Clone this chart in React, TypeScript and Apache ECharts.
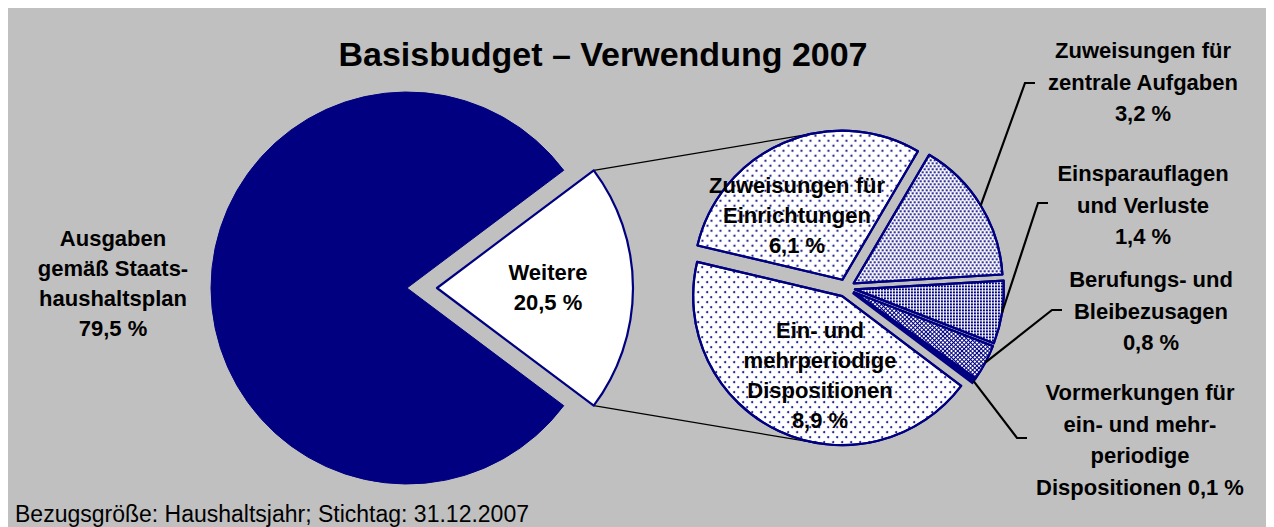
import React, { useEffect, useRef } from "react";
import * as echarts from "echarts";

// ---------- data ----------
const titleText = "Basisbudget – Verwendung 2007";
const footnote = "Bezugsgröße: Haushaltsjahr; Stichtag: 31.12.2007";

const mainCategories = ["Ausgaben\ngemäß Staats-\nhaushaltsplan", "Weitere"];
const mainValues = [79.5, 20.5];

const subCategories = [
  "Zuweisungen für\nEinrichtungen",
  "Zuweisungen für\nzentrale Aufgaben",
  "Einsparauflagen\nund Verluste",
  "Berufungs- und\nBleibezusagen",
  "Vormerkungen für\nein- und mehr-\nperiodige\nDispositionen",
  "Ein- und\nmehrperiodige\nDispositionen",
];
const subValues = [6.1, 3.2, 1.4, 0.8, 0.1, 8.9];
const subValueSeparators = ["\n", "\n", "\n", "\n", " ", "\n"];

// ---------- layout / style ----------
const W = 1266;
const H = 519;
const NAVY = "#000080";
const BG = "#C0C0C0";
const FONT = '"Liberation Sans", Arial, sans-serif';

const MAIN_CX = 399, MAIN_CY = 280, MAIN_R = 196, MAIN_OFFSET = 30;
const SUB_CX = 838, SUB_CY = 280, SUB_R = 149, SUB_OFFSET = 9, SUB_START = 166.7;
const CONNECT_TOP_ANGLE = 101;
const CONNECT_BOTTOM_ANGLE = -100;

const mainLabelPos = [[105, 275], [540, 279]];
const subLabelPos = [[789, 207], [1135, 74], [1135, 197], [1143, 303], [1132, 432], [812, 367]];
const subOutside = [false, true, true, true, true, false];
const subLeaderKnee: (number[] | null)[] = [null, [1017, 75], [1030, 195], [1044, 302], [1009, 430], null];
const subLineHeight = [30, 31.5, 31.5, 31.5, 31.5, 30];

const sparseDots = {
  symbol: "circle", symbolSize: 1, color: NAVY,
  dashArrayX: [[1.6, 6.4], [0, 4, 1.6, 2.4]], dashArrayY: [1.6, 2.4],
};
const subDecals: any[] = [
  sparseDots,
  { symbol: "circle", symbolSize: 1, color: NAVY, dashArrayX: [[2, 2], [0, 2, 2, 0]], dashArrayY: [2, 1] },
  { symbol: "rect", symbolSize: 1, color: NAVY, dashArrayX: [2, 1], dashArrayY: [2, 1] },
  { symbol: "rect", symbolSize: 1, color: "#ffffff", dashArrayX: [2, 1], dashArrayY: [2, 1], rotation: Math.PI / 4 },
  null,
  sparseDots,
];
const subFill = ["#ffffff", "#ffffff", "#ffffff", NAVY, NAVY, "#ffffff"];

const fmt = (v: number) => v.toFixed(1).replace(".", ",") + " %";
const rad = (d: number) => (d * Math.PI) / 180;

export default function App() {
  const ref = useRef<HTMLDivElement>(null);

  useEffect(() => {
    if (!ref.current) return;
    const chart = echarts.init(ref.current, null, { renderer: "svg" });

    const mainTotal = mainValues.reduce((a, b) => a + b, 0);
    const weitereHalf = (mainValues[1] / mainTotal) * 180;
    const mainStart = -weitereHalf;

    const subTotal = subValues.reduce((a, b) => a + b, 0);
    let acc = SUB_START;
    const subAngles = subValues.map((v) => {
      const s = acc;
      const e = acc - (v / subTotal) * 360;
      acc = e;
      return { s, e, mid: (s + e) / 2 };
    });
    const sliceCenter = (i: number) => [
      SUB_CX + SUB_OFFSET * Math.cos(rad(subAngles[i].mid)),
      SUB_CY - SUB_OFFSET * Math.sin(rad(subAngles[i].mid)),
    ];
    const onSlice = (i: number, ang: number) => {
      const c = sliceCenter(i);
      return [c[0] + SUB_R * Math.cos(rad(ang)), c[1] - SUB_R * Math.sin(rad(ang))];
    };

    // connector lines from exploded "Weitere" slice to second pie
    const wcx = MAIN_CX + MAIN_OFFSET;
    const topCorner = [wcx + MAIN_R * Math.cos(rad(weitereHalf)), MAIN_CY - MAIN_R * Math.sin(rad(weitereHalf))];
    const botCorner = [wcx + MAIN_R * Math.cos(rad(weitereHalf)), MAIN_CY + MAIN_R * Math.sin(rad(weitereHalf))];
    const topEnd = onSlice(0, CONNECT_TOP_ANGLE);
    const botEnd = onSlice(subValues.length - 1, CONNECT_BOTTOM_ANGLE);

    const graphics: any[] = [
      { type: "line", z: 1, shape: { x1: topCorner[0], y1: topCorner[1], x2: topEnd[0], y2: topEnd[1] }, style: { stroke: "#000", lineWidth: 1.2 } },
      { type: "line", z: 1, shape: { x1: botCorner[0], y1: botCorner[1], x2: botEnd[0], y2: botEnd[1] }, style: { stroke: "#000", lineWidth: 1.2 } },
    ];

    // labels of the main pie
    mainCategories.forEach((name, i) => {
      graphics.push({
        type: "text", z: 10, x: mainLabelPos[i][0], y: mainLabelPos[i][1],
        style: {
          text: name + "\n" + fmt(mainValues[i]), fill: "#000",
          font: `bold 22px ${FONT}`, align: "center", verticalAlign: "middle", lineHeight: 30,
        },
      });
    });

    // labels and leader lines of the second pie
    subCategories.forEach((name, i) => {
      graphics.push({
        type: "text", z: 10, x: subLabelPos[i][0], y: subLabelPos[i][1],
        style: {
          text: name + subValueSeparators[i] + fmt(subValues[i]), fill: "#000",
          font: `bold 22px ${FONT}`, align: "center", verticalAlign: "middle", lineHeight: subLineHeight[i],
        },
      });
      const knee = subLeaderKnee[i];
      if (subOutside[i] && knee) {
        const anchor = onSlice(i, subAngles[i].mid);
        graphics.push({
          type: "polyline", z: 10,
          shape: { points: [anchor, knee, [knee[0] + 10, knee[1]]] },
          style: { stroke: "#000", lineWidth: 2.2, fill: null },
        });
      }
    });

    graphics.push({
      type: "text", z: 10, x: 7, y: 506,
      style: { text: footnote, fill: "#000", font: `23px ${FONT}`, align: "left", verticalAlign: "middle" },
    });

    chart.setOption({
      animation: false,
      backgroundColor: BG,
      title: {
        text: titleText,
        left: 590,
        top: 24,
        textAlign: "center",
        textStyle: { fontFamily: FONT, fontWeight: "bold", fontSize: 34, color: "#000" },
      },
      graphic: { elements: graphics },
      series: [
        {
          type: "pie",
          center: [MAIN_CX, MAIN_CY],
          radius: MAIN_R,
          startAngle: mainStart,
          clockwise: true,
          silent: true,
          selectedMode: "multiple",
          selectedOffset: MAIN_OFFSET,
          avoidLabelOverlap: false,
          label: { show: false },
          labelLine: { show: false },
          data: mainCategories.map((name, i) => {
            const st = i === 0
              ? { color: NAVY, borderColor: NAVY, borderWidth: 1 }
              : { color: "#ffffff", borderColor: NAVY, borderWidth: 2.2 };
            return { name, value: mainValues[i], selected: i === 1, itemStyle: st, select: { itemStyle: st } };
          }),
        },
        {
          type: "pie",
          center: [SUB_CX, SUB_CY],
          radius: SUB_R,
          startAngle: SUB_START,
          clockwise: true,
          silent: true,
          selectedMode: "multiple",
          selectedOffset: SUB_OFFSET,
          avoidLabelOverlap: false,
          label: { show: false },
          labelLine: { show: false },
          data: subCategories.map((name, i) => {
            const st: any = { color: subFill[i], borderColor: NAVY, borderWidth: 2.2 };
            if (subDecals[i]) st.decal = subDecals[i];
            const sst = { color: subFill[i], borderColor: NAVY, borderWidth: 2.2 };
            return { name, value: subValues[i], selected: true, itemStyle: st, select: { itemStyle: sst } };
          }),
        },
      ],
    });

    return () => chart.dispose();
  }, []);

  return <div ref={ref} style={{ width: W, height: H }} />;
}
